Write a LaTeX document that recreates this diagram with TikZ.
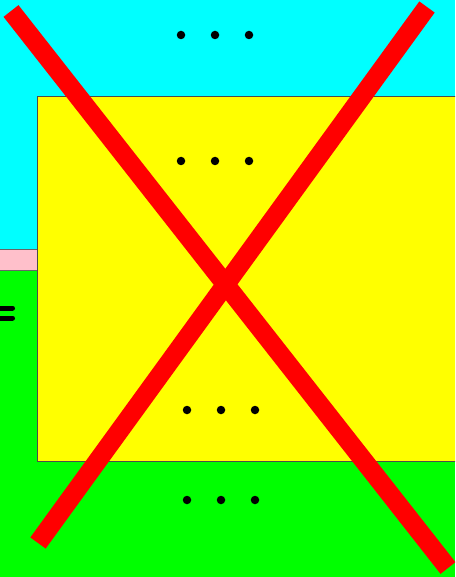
\documentclass[tikz,border=0pt]{standalone}
\usepackage{tikz}
\usetikzlibrary{calc}

\definecolor{bgcyan}{RGB}{0,255,255}
\definecolor{bggreen}{RGB}{0,255,0}
\definecolor{boxyellow}{RGB}{255,255,0}
\definecolor{strippink}{RGB}{255,192,203}
\definecolor{crossred}{RGB}{255,0,0}

\tikzset{
  dotrow/.style={circle,fill=black,inner sep=0pt,minimum size=8.5pt},
  crossbar/.style={crossred,line width=19pt},
}

\begin{document}
\begin{tikzpicture}[x=1pt,y=-1pt]
  \useasboundingbox (0,0) rectangle (455,577);
  \clip (0,0) rectangle (455,577);
  \fill[bgcyan] (0,0) rectangle (455,250);
  \fill[bggreen] (0,270) rectangle (455,577);
  \draw[fill=strippink,draw=black!60,line width=0.6pt] (-5,249) rectangle (40,270.5);
  \draw[fill=boxyellow,draw=black!70,line width=0.6pt] (37.5,96) rectangle (470,461);
  \draw[line width=5pt,line cap=round] (-5,308) -- (12.5,308) (-5,318) -- (12.5,318);
  \foreach \y/\x in {35/181,161/181,410/187,500/187}
    \foreach \k in {0,1,2}
      \node[dotrow] (d\y\k) at (\x+34*\k,\y) {};
  \coordinate (tl) at (11,11);
  \coordinate (br) at (448,568);
  \coordinate (tr) at (427,7);
  \coordinate (bl) at (38,543);
  \draw[crossbar] (tl) -- (br);
  \draw[crossbar] (tr) -- (bl);
\end{tikzpicture}
\end{document}
